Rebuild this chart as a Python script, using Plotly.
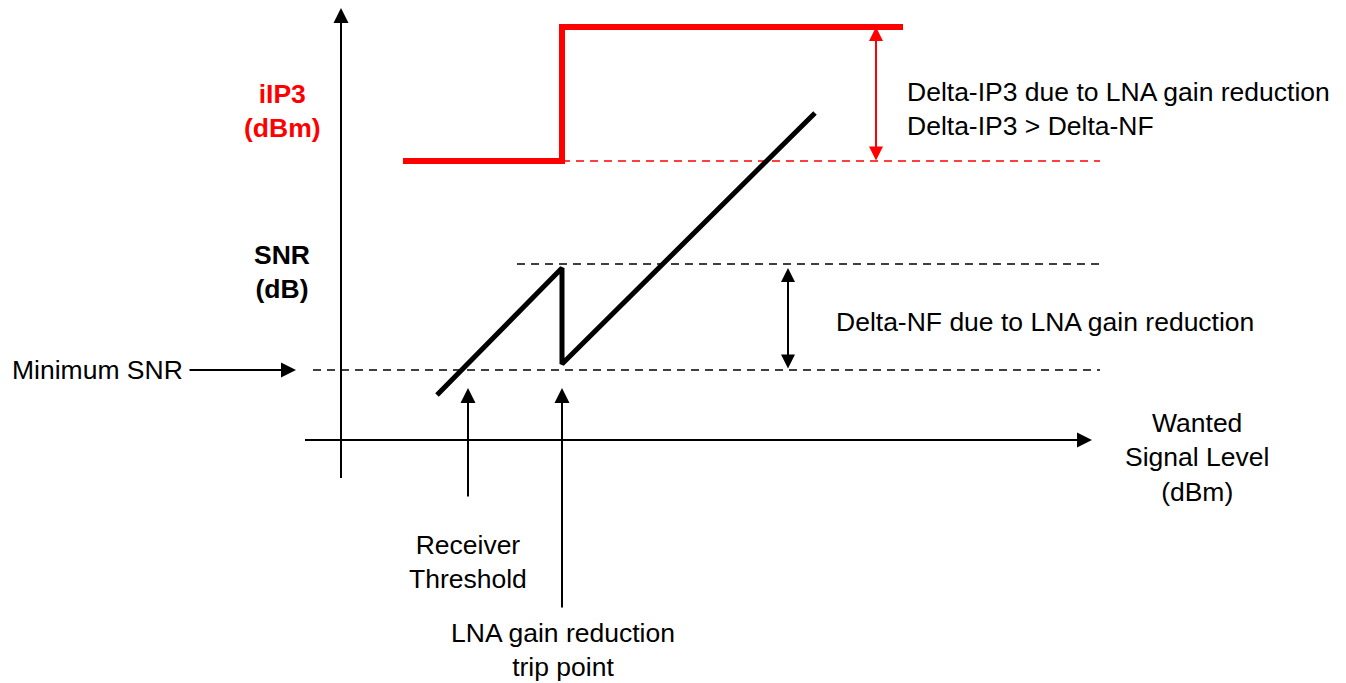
import plotly.graph_objects as go

# ---- diagram data (picture units: x to the right, y downwards) ----
iip3_x = [403, 562, 562, 903]
iip3_y = [161, 161, 27, 27]

snr_x = [437, 562, 562, 815]
snr_y = [395, 268, 364, 113]

dash_black_y = [264, 370]
dash_black_x0 = [517, 313]
dash_x1 = 1100
dash_red_y = 161
dash_red_x0 = 562

axis_y_x = 341
axis_y_span = [478, 8]
axis_x_y = 440
axis_x_span = [305, 1092]

# arrows: (tail_x, tail_y, head_x, head_y)
arrows_single = [
    (188, 370, 296, 370),   # Minimum SNR
    (468, 498, 468, 388),   # Receiver threshold
    (562, 609, 562, 388),   # LNA trip point
]
# double arrows: (x, y_top, y_bottom)
arrow_ip3 = (876, 27, 162)
arrow_nf = (788, 268, 370)

labels = [
    ("Minimum SNR", 10, 370, "left", "black", False),
    ("Receiver<br>Threshold", 468, 562, "center", "black", False),
    ("LNA gain reduction<br>trip point", 563, 650, "center", "black", False),
    ("Wanted<br>Signal Level<br>(dBm)", 1197, 457, "center", "black", False),
    ("iIP3<br>(dBm)", 282, 111, "center", "#ff0000", True),
    ("SNR<br>(dB)", 282, 272, "center", "black", True),
    ("Delta-IP3 due to LNA gain reduction<br>Delta-IP3 > Delta-NF", 905, 109, "left", "black", False),
    ("Delta-NF due to LNA gain reduction", 834, 322, "left", "black", False),
]

FONT = "Arial, Liberation Sans, sans-serif"
RED = "#ff0000"
W, H = 1346, 683

fig = go.Figure()

# dashed guide lines
for yv, x0 in zip(dash_black_y, dash_black_x0):
    fig.add_trace(go.Scatter(x=[x0, dash_x1], y=[yv, yv], mode="lines",
                             line=dict(color="black", width=1.5, dash="8px,6px"),
                             hoverinfo="skip"))
fig.add_trace(go.Scatter(x=[dash_red_x0, dash_x1], y=[dash_red_y, dash_red_y], mode="lines",
                         line=dict(color=RED, width=1.5, dash="8px,6px"), hoverinfo="skip"))

# axes
fig.add_trace(go.Scatter(x=[axis_y_x, axis_y_x], y=[axis_y_span[0], axis_y_span[1] + 10],
                         mode="lines", line=dict(color="black", width=2), hoverinfo="skip"))
fig.add_trace(go.Scatter(x=[axis_x_span[0], axis_x_span[1] - 10], y=[axis_x_y, axis_x_y],
                         mode="lines", line=dict(color="black", width=2), hoverinfo="skip"))

# iIP3 step
fig.add_trace(go.Scatter(x=iip3_x, y=iip3_y, mode="lines",
                         line=dict(color=RED, width=6), hoverinfo="skip"))
# SNR sawtooth
fig.add_trace(go.Scatter(x=snr_x, y=snr_y, mode="lines",
                         line=dict(color="black", width=5), hoverinfo="skip"))

anns = []
# axis arrowheads
anns.append(dict(x=axis_y_x, y=axis_y_span[1], ax=axis_y_x, ay=axis_y_span[1] + 30,
                 xref="x", yref="y", axref="x", ayref="y", text="", showarrow=True,
                 arrowhead=2, arrowsize=1.5, arrowwidth=2, arrowcolor="black"))
anns.append(dict(x=axis_x_span[1], y=axis_x_y, ax=axis_x_span[1] - 30, ay=axis_x_y,
                 xref="x", yref="y", axref="x", ayref="y", text="", showarrow=True,
                 arrowhead=2, arrowsize=1.5, arrowwidth=2, arrowcolor="black"))
for tx, ty, hx, hy in arrows_single:
    anns.append(dict(x=hx, y=hy, ax=tx, ay=ty, xref="x", yref="y", axref="x", ayref="y",
                     text="", showarrow=True, arrowhead=2, arrowsize=1.5, arrowwidth=2,
                     arrowcolor="black"))
for (xx, yt, yb), col in ((arrow_ip3, RED), (arrow_nf, "black")):
    anns.append(dict(x=xx, y=yt, ax=xx, ay=yb, xref="x", yref="y", axref="x", ayref="y",
                     text="", showarrow=True, arrowhead=2, startarrowhead=2,
                     arrowside="end+start", arrowsize=1.4, startarrowsize=1.4,
                     arrowwidth=2, arrowcolor=col))

for txt, x, y, anchor, col, bold in labels:
    anns.append(dict(x=x, y=y, xref="x", yref="y", text=(f"<b>{txt}</b>" if bold else txt),
                     showarrow=False, xanchor=anchor, yanchor="middle", align=anchor,
                     font=dict(family=FONT, size=26.5, color=col)))

fig.update_layout(
    width=W, height=H,
    margin=dict(l=0, r=0, t=0, b=0),
    paper_bgcolor="white", plot_bgcolor="white",
    showlegend=False,
    xaxis=dict(range=[0, W], visible=False, fixedrange=True),
    yaxis=dict(range=[H, 0], visible=False, fixedrange=True),
    annotations=anns,
)

fig.write_html(
    "out.html",
    config={"displayModeBar": False},
    post_script="document.body.style.margin='0';document.body.style.overflow='hidden';",
)
